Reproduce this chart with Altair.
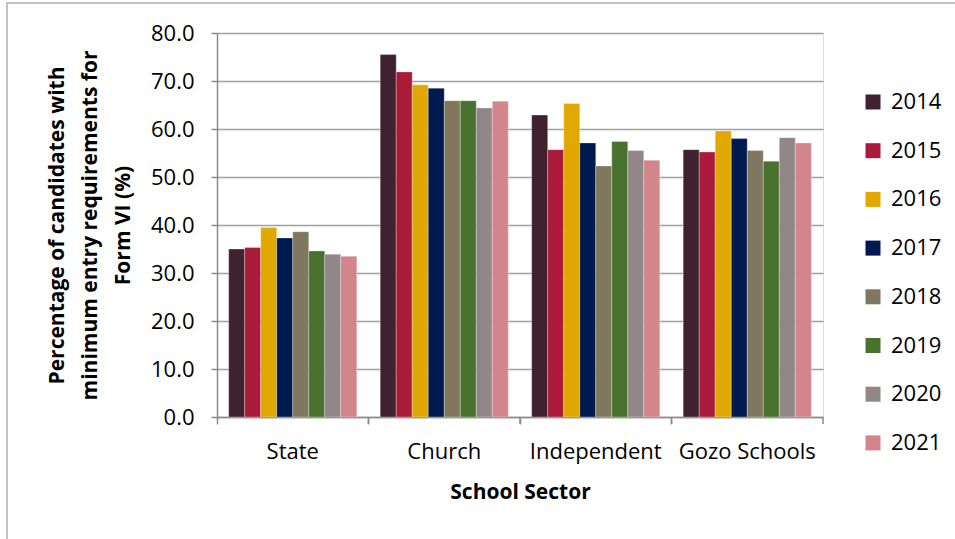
import altair as alt
import pandas as pd

sectors = ["State", "Church", "Independent", "Gozo Schools"]
years = ["2014", "2015", "2016", "2017", "2018", "2019", "2020", "2021"]
colors = ["#3F2130", "#A91B38", "#E0A800", "#001A4F", "#7F775E", "#4A722F", "#918688", "#D2868C"]

state = [35.0, 35.3, 39.5, 37.3, 38.6, 34.6, 33.9, 33.5]
church = [75.5, 71.9, 69.2, 68.5, 65.9, 65.9, 64.4, 65.8]
independent = [62.9, 55.7, 65.3, 57.1, 52.3, 57.4, 55.5, 53.5]
gozo = [55.7, 55.2, 59.6, 58.0, 55.5, 53.3, 58.2, 57.1]

rows = []
for sec, vals in zip(sectors, [state, church, independent, gozo]):
    for y, v in zip(years, vals):
        rows.append({"sector": sec, "year": y, "value": v})
df = pd.DataFrame(rows)

FONT = "Open Sans"
W, H = 606, 384

x_enc = alt.X(
    "sector:N", sort=sectors,
    scale=alt.Scale(paddingInner=0, paddingOuter=0),
    axis=alt.Axis(
        title="School Sector", titleFont=FONT, titleFontSize=21, titleFontWeight="bold",
        titleColor="#000", titleY=75, titleBaseline="middle",
        labelFont=FONT, labelFontSize=22, labelColor="#000", labelAngle=0, labelPadding=17,
        bandPosition=0, tickSize=7, tickColor="#8a8a8a", tickWidth=1.5,
        domainColor="#8a8a8a", domainWidth=1.5, grid=False,
    ),
)

bars = alt.Chart(df).mark_bar(stroke="white", strokeWidth=0.6, strokeOpacity=0.5).encode(
    x=x_enc,
    xOffset=alt.XOffset("year:N", sort=years, scale=alt.Scale(paddingInner=0, paddingOuter=0.73)),
    y=alt.Y(
        "value:Q",
        scale=alt.Scale(domain=[0, 80]),
        axis=alt.Axis(
            values=[0, 10, 20, 30, 40, 50, 60, 70, 80], format=".1f",
            title=["Percentage of candidates with", "minimum entry requirements for", "Form VI (%)"],
            titleFont=FONT, titleFontSize=21, titleFontWeight="bold", titleColor="#000",
            titleAngle=270, titleX=-160, titleY=H / 2, titleAlign="center",
            titleBaseline="middle", titleLineHeight=33,
            labelFont=FONT, labelFontSize=22, labelColor="#000", labelPadding=17,
            tickSize=6, tickColor="#8a8a8a", tickWidth=1.5,
            domainColor="#8a8a8a", domainWidth=1.5,
            grid=True, gridColor="#a0a0a0", gridWidth=1.5,
        ),
    ),
    color=alt.Color(
        "year:N", sort=years, scale=alt.Scale(domain=years, range=colors),
        legend=alt.Legend(
            title=None, orient="none", legendX=645, legendY=58,
            symbolType="square", symbolSize=225, symbolStrokeWidth=0,
            labelFont=FONT, labelFontSize=22, labelColor="#000", labelOffset=7,
            rowPadding=26.7, padding=0,
        ),
    ),
)

edge_ticks = alt.Chart(pd.DataFrame({"sector": sectors})).mark_rule(
    color="#8a8a8a", strokeWidth=1.5
).encode(
    x=alt.X("sector:N", sort=sectors, bandPosition=1),
    y=alt.value(H),
    y2=alt.value(H + 7),
)

frame = alt.Chart(pd.DataFrame({"a": [0]})).mark_rect(
    fill=None, stroke="#b0b0b0", strokeWidth=1.5
).encode(
    x=alt.value(-210), x2=alt.value(760), y=alt.value(-30), y2=alt.value(520)
)

chart = alt.layer(frame, bars, edge_ticks).properties(
    width=W, height=H,
    autosize=alt.AutoSizeParams(type="none"),
    padding={"left": 217, "top": 33, "right": 132, "bottom": 122},
).configure_view(stroke=None).configure(background="white")

chart.save("out.html", embed_options={"renderer": "svg", "actions": False})
